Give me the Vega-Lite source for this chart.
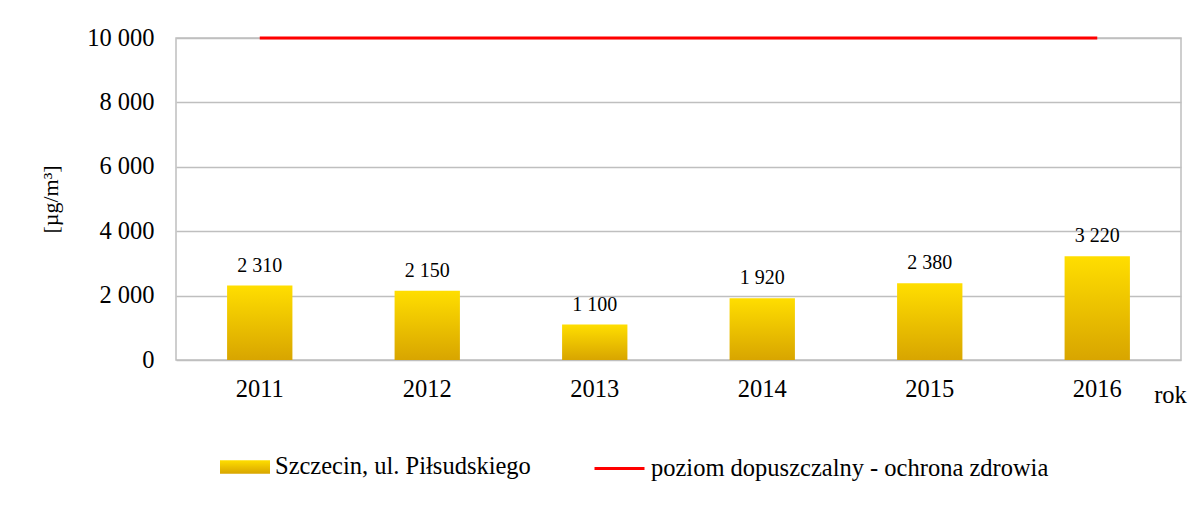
{
  "$schema": "https://vega.github.io/schema/vega-lite/v6.json",
  "width": 1005,
  "height": 322,
  "autosize": {"type": "none"},
  "padding": {"left": 176, "top": 38, "right": 15, "bottom": 146},
  "background": "white",
  "config": {
    "font": "Liberation Serif",
    "locale": {"number": {"decimal": ",", "thousands": " ", "grouping": [3], "currency": ["", ""]}},
    "view": {"stroke": "#BFBFBF", "strokeWidth": 1.5},
    "axis": {"labelFont": "Liberation Serif", "titleFont": "Liberation Serif", "labelColor": "#000000", "titleColor": "#000000", "titleFontWeight": "normal"},
    "legend": {"labelFont": "Liberation Serif", "labelColor": "#000000", "labelFontSize": 24.5, "labelLimit": 600, "labelOffset": 5, "title": null, "orient": "none", "padding": 0}
  },
  "data": {
    "values": [
      {"rok": "2011", "stezenie": 2310, "limit": 10000},
      {"rok": "2012", "stezenie": 2150, "limit": 10000},
      {"rok": "2013", "stezenie": 1100, "limit": 10000},
      {"rok": "2014", "stezenie": 1920, "limit": 10000},
      {"rok": "2015", "stezenie": 2380, "limit": 10000},
      {"rok": "2016", "stezenie": 3220, "limit": 10000}
    ]
  },
  "layer": [
    {
      "mark": {
        "type": "bar",
        "fill": {"gradient": "linear", "x1": 0, "y1": 0, "x2": 0, "y2": 1, "stops": [{"offset": 0, "color": "#FFDE00"}, {"offset": 1, "color": "#D8A500"}]},
        "strokeWidth": 0,
        "width": {"band": 0.39}
      },
      "encoding": {
        "x": {
          "field": "rok", "type": "nominal",
          "scale": {"paddingInner": 0, "paddingOuter": 0},
          "axis": {"labelAngle": 0, "ticks": false, "domain": false, "labelFontSize": 24.5, "labelPadding": 17, "title": "rok", "titleFontSize": 24.5, "titleX": 994, "titleY": 42, "titleBaseline": "alphabetic", "titleAlign": "center", "titleAnchor": "start"}
        },
        "y": {
          "field": "stezenie", "type": "quantitative", "title": "[µg/m³]",
          "scale": {"domain": [0, 10000], "nice": false},
          "axis": {"values": [0, 2000, 4000, 6000, 8000, 10000], "format": ",d", "grid": true, "gridColor": "#BFBFBF", "gridWidth": 1.5, "ticks": false, "domain": false, "labelFontSize": 24.5, "labelPadding": 22, "titleFontSize": 22, "titlePadding": 24}
        },
        "opacity": {
          "datum": "Szczecin, ul. Piłsudskiego", "type": "nominal",
          "scale": {"range": [1]},
          "legend": {"legendX": 44, "legendY": 404, "direction": "horizontal", "symbolType": "M-1,-0.27H1V0.27H-1Z", "symbolSize": 2500, "symbolStrokeWidth": 0, "symbolOpacity": 1}
        }
      }
    },
    {
      "mark": {"type": "text", "dy": -14, "baseline": "alphabetic", "fontSize": 20, "font": "Liberation Serif", "color": "#000000"},
      "encoding": {
        "x": {"field": "rok", "type": "nominal"},
        "y": {"field": "stezenie", "type": "quantitative", "title": "[µg/m³]"},
        "text": {"field": "stezenie", "type": "quantitative", "format": ",d"}
      }
    },
    {
      "mark": {"type": "line", "strokeWidth": 3},
      "encoding": {
        "x": {"field": "rok", "type": "nominal"},
        "y": {"field": "limit", "type": "quantitative", "title": "[µg/m³]"},
        "stroke": {
          "datum": "poziom dopuszczalny - ochrona zdrowia", "type": "nominal",
          "scale": {"range": ["#FF0000"]},
          "legend": {"legendX": 417, "legendY": 404, "direction": "horizontal", "symbolType": "stroke", "symbolSize": 2500, "symbolStrokeWidth": 3}
        }
      }
    }
  ]
}
